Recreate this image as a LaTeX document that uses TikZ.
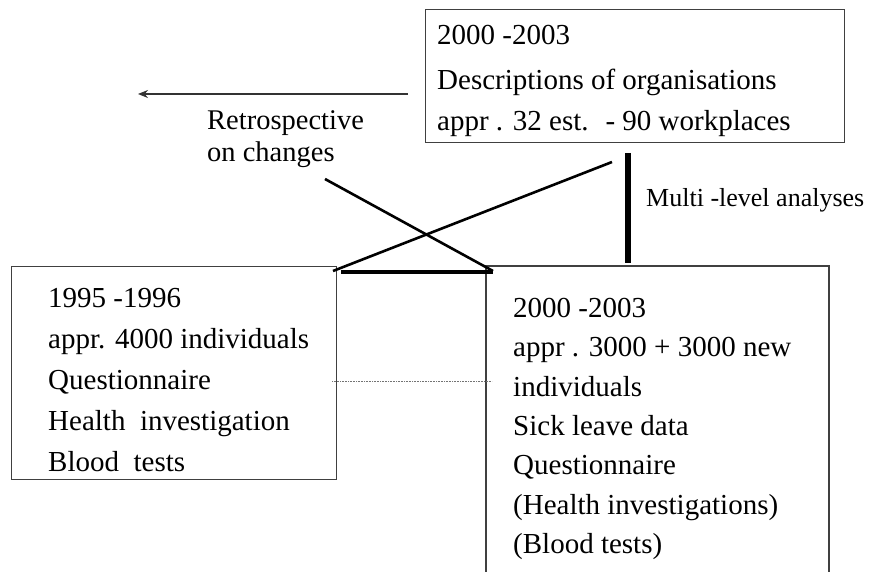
\documentclass[tikz,border=0pt]{standalone}
\usepackage{fontspec}
\setmainfont{Liberation Serif}[Ligatures=TeX]
\newfontfamily\tnr{Liberation Serif}
\usetikzlibrary{arrows.meta}
\begin{document}
\begin{tikzpicture}[x=1pt,y=-1pt,
  boxline/.style={draw=black!75, line width=1.1pt},
  boxnode/.style={boxline, anchor=north west, inner sep=0pt},
  txt/.style={anchor=base west, inner sep=0pt, font=\tnr\fontsize{29}{34}\selectfont},
  lbl/.style={anchor=base west, inner sep=0pt, font=\tnr\fontsize{28.5}{32}\selectfont},
  crossline/.style={line width=2.6pt, black},
  barline/.style={line width=4pt, black},
  vbar/.style={line width=5.5pt, black},
  dotline/.style={black!55, line width=0.7pt, dash pattern=on 0.8pt off 0.8pt},
  arrowline/.style={black!80, line width=1.2pt, -{Stealth[length=10pt,width=8pt]}}]
\useasboundingbox (0,0) rectangle (872,572);

% boxes
\node[boxnode, minimum width=419pt, minimum height=133pt] (topbox) at (425,9) {};
\node[boxnode, minimum width=325pt, minimum height=213pt] (leftbox) at (11,266) {};
\coordinate (rbBL) at (486,573);
\coordinate (rbTL) at (486,266);
\coordinate (rbTR) at (829,266);
\coordinate (rbBR) at (829,573);
\draw[boxline] (rbBL) -- (rbTL) -- (rbTR) -- (rbBR);

% top box text
\node[txt] (top1) at (437,45) {2000 -2003};
\node[txt] (top2) at (437,90) {Descriptions of organisations};
\node[txt] (top3) at (437,131) {appr . 32 est. \ - 90 workplaces};

% left box text
\node[txt] (l1) at (48,307) {1995 -1996};
\node[txt] (l2) at (48,348) {appr. 4000 individuals};
\node[txt] (l3) at (48,389) {Questionnaire};
\node[txt] (l4) at (48,430) {Health \ investigation};
\node[txt] (l5) at (48,471) {Blood \ tests};

% right box text
\node[txt] (r1) at (513,317) {2000 -2003};
\node[txt] (r2) at (513,356) {appr . 3000 + 3000 new};
\node[txt] (r3) at (513,396) {individuals};
\node[txt] (r4) at (513,435) {Sick leave data};
\node[txt] (r5) at (513,474) {Questionnaire};
\node[txt] (r6) at (513,514) {(Health investigations)};
\node[txt] (r7) at (513,553) {(Blood tests)};

% labels
\node[lbl] (retro1) at (207,130) {Retrospective};
\node[lbl] (retro2) at (207,162) {on changes};
\node[lbl, font=\tnr\fontsize{26}{30}\selectfont] (multi) at (646,206) {Multi -level analyses};

% arrow
\coordinate (arrS) at (408,94);
\coordinate (arrE) at (138,94);
\draw[arrowline] (arrS) -- (arrE);

% connectors
\coordinate (cA1) at (325,179);
\coordinate (cA2) at (493,271);
\coordinate (cB1) at (333,271);
\coordinate (cB2) at (612,162);
\draw[crossline] (cA1) -- (cA2);
\draw[crossline] (cB1) -- (cB2);
\coordinate (hb1) at (341,272);
\coordinate (hb2) at (493,272);
\draw[barline] (hb1) -- (hb2);
\coordinate (vb1) at (628,153);
\coordinate (vb2) at (628,263);
\draw[vbar] (vb1) -- (vb2);
\coordinate (dl1) at (332,381);
\coordinate (dl2) at (492,381);
\draw[dotline] (dl1) -- (dl2);
\end{tikzpicture}
\end{document}
